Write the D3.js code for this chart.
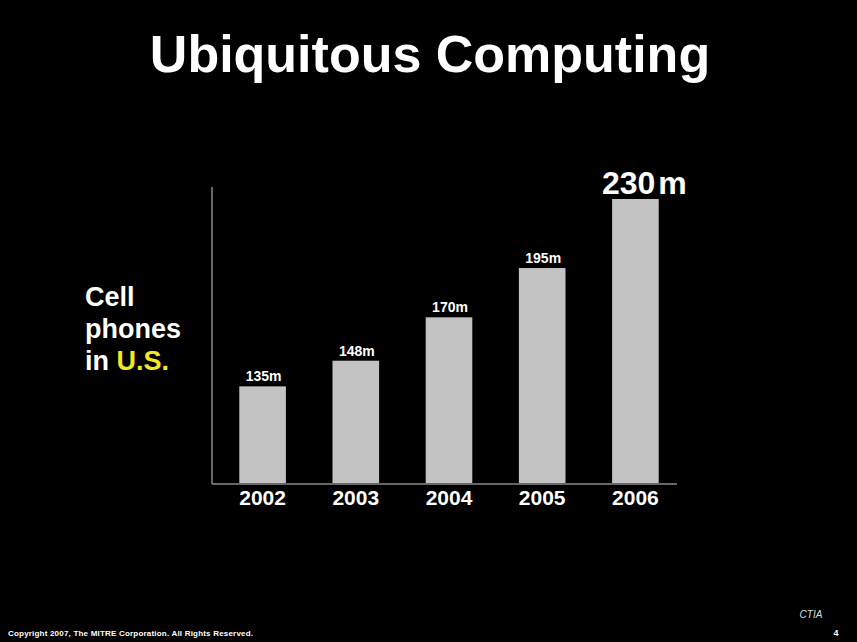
<!DOCTYPE html>
<html>
<head>
<meta charset="utf-8">
<script src="https://cdn.jsdelivr.net/npm/d3@7"></script>
<style>
  html, body { margin: 0; padding: 0; background: #000; }
  svg { display: block; }
</style>
</head>
<body>
<svg id="chart" width="857" height="642"></svg>
<script>
// ---- data ----
const years = ["2002", "2003", "2004", "2005", "2006"];
const phones = [135, 148, 170, 195, 230];          // millions
const valueLabels = ["135m", "148m", "170m", "195m", "230m"];
const titleText = "Ubiquitous Computing";
const sourceText = "CTIA";
const footerText = "Copyright 2007, The MITRE Corporation.  All Rights Reserved.";
const pageNumber = "4";

// ---- layout ----
const W = 857, H = 642;
const font = "Liberation Sans, Arial, Helvetica, sans-serif";
const svg = d3.select("#chart");
svg.append("rect").attr("width", W).attr("height", H).attr("fill", "#000");

const x = d3.scaleBand().domain(years).range([216, 682]).paddingInner(0.5).paddingOuter(0.25);
const y = d3.scaleLinear().domain([86, 230]).range([483, 199]);

// title
svg.append("text")
  .attr("x", 430).attr("y", 72)
  .attr("text-anchor", "middle")
  .attr("fill", "#fff")
  .style("font", `bold 52px ${font}`)
  .text(titleText);

// left label
const lab = svg.append("text")
  .attr("fill", "#fff")
  .style("font", `bold 27px ${font}`);
lab.append("tspan").attr("x", 85).attr("y", 306).text("Cell");
lab.append("tspan").attr("x", 85).attr("y", 338).text("phones");
lab.append("tspan").attr("x", 85).attr("y", 370).text("in ");
lab.append("tspan").attr("fill", "#f2ea1c").text("U.S.");

// axes lines
svg.append("line")
  .attr("x1", 212).attr("x2", 212).attr("y1", 187).attr("y2", y(86) + 1)
  .attr("stroke", "#8a8a8a").attr("stroke-width", 1.5);
svg.append("line")
  .attr("x1", 212).attr("x2", 677).attr("y1", y(86) + 1).attr("y2", y(86) + 1)
  .attr("stroke", "#8a8a8a").attr("stroke-width", 1.5);

// bars
const data = years.map((yr, i) => ({ yr, v: phones[i], label: valueLabels[i] }));
svg.selectAll("rect.bar").data(data).enter().append("rect")
  .attr("class", "bar")
  .attr("x", d => x(d.yr))
  .attr("width", x.bandwidth())
  .attr("y", d => y(d.v))
  .attr("height", d => y(86) - y(d.v))
  .attr("fill", "#c3c3c3");

// value labels
data.forEach((d, i) => {
  const last = i === data.length - 1;
  const t = svg.append("text")
    .attr("x", x(d.yr) + x.bandwidth() / 2 + (last ? 9 : 1))
    .attr("y", y(d.v) - 5)
    .attr("text-anchor", "middle")
    .attr("fill", "#fff")
    .style("font", `bold ${last ? 32 : 14}px ${font}`);
  if (last) {
    t.append("tspan").text(d.label.slice(0, -1));
    t.append("tspan").attr("dx", 3).text(d.label.slice(-1));
  } else {
    t.text(d.label);
  }
});

// x axis labels
svg.selectAll("text.year").data(years).enter().append("text")
  .attr("class", "year")
  .attr("x", d => x(d) + x.bandwidth() / 2)
  .attr("y", 505)
  .attr("text-anchor", "middle")
  .attr("fill", "#fff")
  .style("font", `bold 21px ${font}`)
  .text(d => d);

// source
svg.append("text")
  .attr("x", 811).attr("y", 618)
  .attr("text-anchor", "middle")
  .attr("fill", "#ddd")
  .style("font", `italic 10px ${font}`)
  .text(sourceText);

// footer
svg.append("text")
  .attr("x", 8).attr("y", 636)
  .attr("fill", "#fff")
  .attr("textLength", 245)
  .attr("lengthAdjust", "spacing")
  .style("font", `bold 8px ${font}`)
  .text(footerText);

svg.append("text")
  .attr("x", 836).attr("y", 636)
  .attr("text-anchor", "middle")
  .attr("fill", "#fff")
  .style("font", `bold 9px ${font}`)
  .text(pageNumber);
</script>
</body>
</html>
